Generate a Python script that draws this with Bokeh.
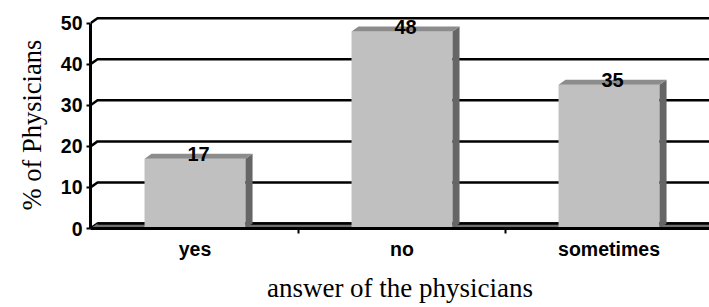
from bokeh.plotting import figure
from bokeh.models import Range1d, FixedTicker, Title
from bokeh.core.properties import value
from bokeh.embed import file_html
from bokeh.resources import INLINE

# ---- data ----
categories = ["yes", "no", "sometimes"]
percent = [17, 48, 35]
y_ticks = [0, 10, 20, 30, 40, 50]
x_title = "answer of the physicians"
y_title = "% of Physicians"

xs = list(range(len(categories)))

# layout constants (pixels per data unit)
PX_X = 207.0
PX_Y = 4.106
x0 = -0.505
x1 = x0 + 619 / PX_X
y1 = 50 + (22.7 - 6) / PX_Y

p = figure(width=709, height=307, x_range=Range1d(x0, x1), y_range=Range1d(0, y1),
           output_backend="svg", toolbar_location=None,
           min_border_left=90, min_border_right=0, min_border_top=6, min_border_bottom=79)
p.outline_line_color = None
p.xgrid.visible = False
p.ygrid.visible = False

# 3D depth offsets (~7px right and ~5px up)
dx = 7 / PX_X
dy = 5 / PX_Y
bw = 0.488
hw = bw / 2

# back wall gridlines
p.multi_line(xs=[[x0, x0 + dx, x1] for t in y_ticks],
             ys=[[t, t + dy, t + dy] for t in y_ticks],
             line_color="black", line_width=2.5)
# floor
p.patch(x=[x0, x0 + dx, x1, x1], y=[0, dy, dy, 0], fill_color="#707070", line_color=None)
p.line(x=[x0 + dx, x1], y=[dy, dy], line_color="black", line_width=2.5)

# bars
p.vbar(x=xs, top=percent, bottom=0, width=bw, fill_color="#C0C0C0", line_color=None)
p.patches(xs=[[x + hw, x + hw + dx, x + hw + dx, x + hw] for x in xs],
          ys=[[0, dy, v + dy, v] for v in percent],
          fill_color="#666666", line_color=None)
p.patches(xs=[[x - hw, x - hw + dx, x + hw + dx, x + hw] for x in xs],
          ys=[[v, v + dy, v + dy, v] for v in percent],
          fill_color="#8C8C8C", line_color=None)

# value labels
p.text(x=[x + dx / 2 for x in xs], y=[v + 4.5 / PX_Y for v in percent], text=[str(v) for v in percent],
       text_align="center", text_baseline="alphabetic",
       text_font=value("Liberation Sans"), text_font_style="bold", text_font_size="20px",
       text_color="black")

# x axis
xa = p.xaxis[0]
xa.ticker = FixedTicker(ticks=xs, minor_ticks=[x + 0.5 for x in xs[:-1]])
xa.major_label_overrides = {x: c for x, c in zip(xs, categories)}
xa.major_tick_out = 0
xa.major_tick_in = 0
xa.minor_tick_out = 5
xa.minor_tick_in = 0
xa.minor_tick_line_width = 2
xa.minor_tick_line_color = "black"
xa.axis_line_width = 3
xa.axis_line_color = "black"
xa.major_label_text_font = "Liberation Sans"
xa.major_label_text_font_style = "bold"
xa.major_label_text_font_size = "19.5px"
xa.major_label_text_color = "black"
xa.major_label_standoff = 4
xa.axis_label = x_title
xa.axis_label_text_font = "Liberation Serif"
xa.axis_label_text_font_style = "normal"
xa.axis_label_text_font_size = "27px"
xa.axis_label_text_color = "black"
xa.axis_label_standoff = 10

# y axis
ya = p.yaxis[0]
ya.ticker = FixedTicker(ticks=y_ticks)
ya.bounds = (0, 50)
ya.major_tick_out = 4
ya.major_tick_in = 0
ya.major_tick_line_width = 2
ya.major_tick_line_color = "black"
ya.minor_tick_out = 0
ya.minor_tick_in = 0
ya.axis_line_width = 3
ya.axis_line_color = "black"
ya.major_label_text_font = "Liberation Sans"
ya.major_label_text_font_style = "bold"
ya.major_label_text_font_size = "19.5px"
ya.major_label_text_color = "black"
ya.major_label_standoff = 4

# y axis title as a side title
p.add_layout(Title(text=y_title, align="left", offset=18, standoff=22,
                   text_font="Liberation Serif", text_font_style="normal",
                   text_font_size="26.5px", text_color="black"), "left")

open("out.html", "w").write(file_html(p, INLINE))
